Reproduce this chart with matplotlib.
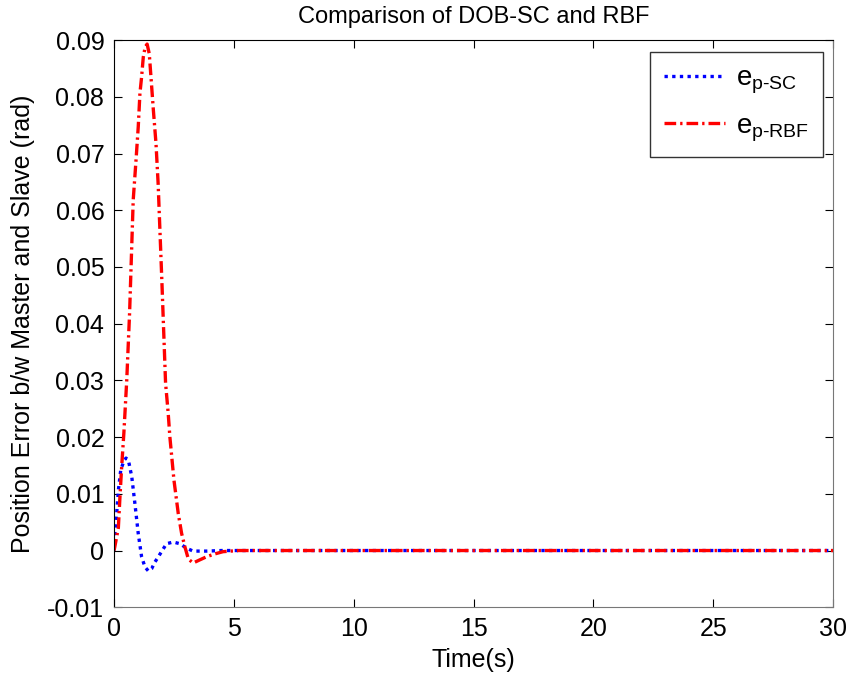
import matplotlib
matplotlib.use('Agg')
import matplotlib.pyplot as plt

plt.rcParams['font.family'] = ['Liberation Sans', 'DejaVu Sans']
plt.rcParams['mathtext.fontset'] = 'custom'
plt.rcParams['mathtext.rm'] = 'Liberation Sans'
plt.rcParams['mathtext.it'] = 'Liberation Sans'

t_sc = [0, 0.03, 0.11, 0.18, 0.28, 0.42, 0.5, 0.6, 0.74, 0.87, 1.01, 1.15, 1.29,
        1.43, 1.57, 1.71, 1.85, 1.98, 2.19, 2.47, 2.75, 3.03, 3.3, 3.85, 4.5, 30]
e_sc = [0, 0.003, 0.0065, 0.0106, 0.0142, 0.0159, 0.0163, 0.0159, 0.013, 0.0083,
        0.003, -0.0011, -0.0029, -0.0036, -0.0032, -0.002, -0.0011, -0.0002,
        0.0012, 0.0015, 0.0012, 0.0004, -0.0001, -0.0001, 0, 0]

t_rbf = [0, 0.03, 0.18, 0.24, 0.31, 0.41, 0.5, 0.53, 0.65, 0.8, 0.92, 1.01, 1.08,
         1.15, 1.22, 1.3, 1.38, 1.47, 1.52, 1.57, 1.64, 1.75, 1.84, 2.0, 2.15,
         2.26, 2.33, 2.5, 2.68, 2.82, 2.96, 3.1, 3.3, 3.55, 3.86, 4.2, 4.55, 5.2,
         6.0, 30]
e_rbf = [0, 0.0006, 0.004, 0.0089, 0.0142, 0.0207, 0.0277, 0.030, 0.042, 0.0618,
         0.069, 0.0747, 0.0806, 0.0835, 0.087, 0.0888, 0.0893, 0.0876, 0.0847,
         0.0818, 0.0777, 0.0718, 0.0647, 0.047, 0.0295, 0.0242, 0.020, 0.0124,
         0.0065, 0.003, 0.0006, -0.0015, -0.0022, -0.0017, -0.0011, -0.0006,
         -0.0002, 0, 0, 0]

xticks = [0, 5, 10, 15, 20, 25, 30]
yticks = [-0.01, 0, 0.01, 0.02, 0.03, 0.04, 0.05, 0.06, 0.07, 0.08, 0.09]
ytick_labels = ['-0.01', '0', '0.01', '0.02', '0.03', '0.04', '0.05', '0.06',
                '0.07', '0.08', '0.09']

fig = plt.figure(figsize=(8.51, 6.8), dpi=100)
ax = fig.add_axes([0.134, 0.107, 0.845, 0.834])

ax.plot(t_sc, e_sc, color='blue', linestyle=(0, (1, 1.3)), linewidth=2.4,
        label='e$_{\\mathregular{p\\text{-}SC}}$')
ax.plot(t_rbf, e_rbf, color='red', linestyle=(0, (3.5, 1.2, 0.7, 1.2)),
        linewidth=2.4, label='e$_{\\mathregular{p\\text{-}RBF}}$')

ax.set_xlim(0, 30)
ax.set_ylim(-0.01, 0.09)
ax.set_xticks(xticks)
ax.set_yticks(yticks)
ax.set_yticklabels(ytick_labels)
ax.tick_params(direction='in', top=True, right=True, labelsize=18, length=6)
ax.tick_params(axis='y', pad=7)
ax.tick_params(axis='x', pad=7)
for s in ['left', 'top']:
    ax.spines[s].set_color('black')
for s in ['right', 'bottom']:
    ax.spines[s].set_color('#777777')

ax.set_xlabel('Time(s)', fontsize=18, labelpad=5)
ax.set_ylabel('Position Error b/w Master and Slave (rad)', fontsize=18,
              labelpad=9)
ax.set_title('Comparison of DOB-SC and RBF', fontsize=17, pad=12)

leg = ax.legend(loc='upper right', fontsize=20, fancybox=False, framealpha=1,
                edgecolor='#333333', handlelength=2.2, handletextpad=0.4,
                borderpad=0.5, labelspacing=0.6, borderaxespad=0,
                bbox_to_anchor=(0.986, 0.979))
leg.get_frame().set_linewidth(1.0)

fig.savefig('out.png', dpi=100)
